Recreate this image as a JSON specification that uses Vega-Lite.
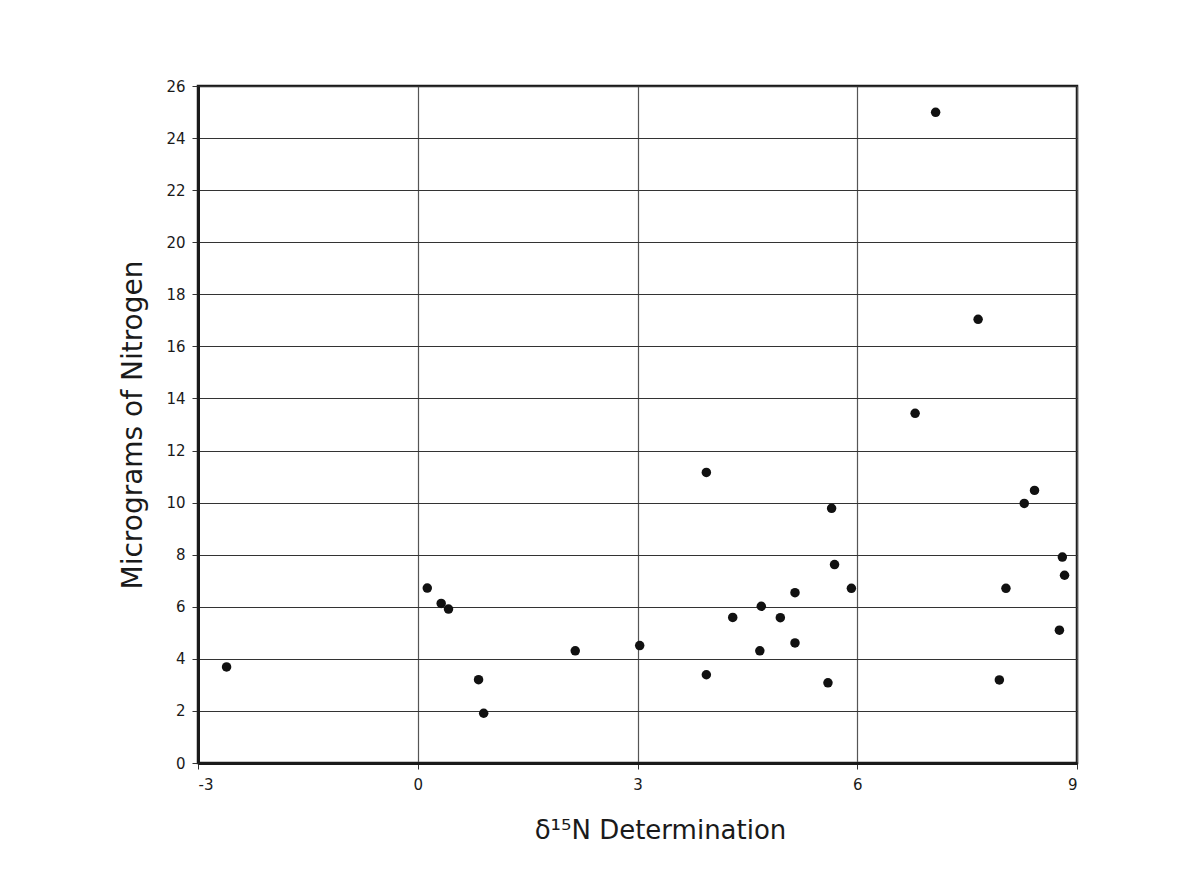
{
  "$schema": "https://vega.github.io/schema/vega-lite/v6.json",
  "width": 879,
  "height": 677,
  "autosize": "none",
  "padding": {"left": 198, "top": 86, "right": 125, "bottom": 125},
  "background": "white",
  "config": {
    "view": {"stroke": "#1a1a1a", "strokeWidth": 2.5},
    "font": "DejaVu Sans"
  },
  "data": {
    "values": [
      {"d15N": -2.61, "N": 3.69},
      {"d15N": 0.13, "N": 6.72},
      {"d15N": 0.32, "N": 6.13},
      {"d15N": 0.42, "N": 5.91},
      {"d15N": 0.83, "N": 3.2},
      {"d15N": 0.9, "N": 1.91},
      {"d15N": 2.15, "N": 4.31},
      {"d15N": 3.03, "N": 4.51},
      {"d15N": 3.94, "N": 11.16},
      {"d15N": 3.94, "N": 3.39},
      {"d15N": 4.3, "N": 5.59},
      {"d15N": 4.69, "N": 6.02},
      {"d15N": 4.67, "N": 4.31},
      {"d15N": 4.95, "N": 5.58},
      {"d15N": 5.15, "N": 6.54},
      {"d15N": 5.15, "N": 4.61},
      {"d15N": 5.65, "N": 9.78},
      {"d15N": 5.69, "N": 7.62},
      {"d15N": 5.6, "N": 3.08},
      {"d15N": 5.92, "N": 6.71},
      {"d15N": 6.79, "N": 13.43},
      {"d15N": 7.07, "N": 24.99},
      {"d15N": 7.65, "N": 17.04},
      {"d15N": 8.42, "N": 10.47},
      {"d15N": 8.28, "N": 9.97},
      {"d15N": 8.8, "N": 7.91},
      {"d15N": 8.83, "N": 7.21},
      {"d15N": 8.03, "N": 6.71},
      {"d15N": 8.76, "N": 5.1},
      {"d15N": 7.94, "N": 3.19}
    ]
  },
  "mark": {"type": "circle", "size": 90, "color": "#111111", "opacity": 1},
  "encoding": {
    "x": {
      "field": "d15N",
      "type": "quantitative",
      "scale": {"domain": [-3, 9], "nice": false, "zero": false},
      "axis": {
        "title": "δ¹⁵N Determination",
        "titleFont": "DejaVu Sans",
        "titleFontSize": 26,
        "titleFontWeight": "normal",
        "titleColor": "#1a1a1a",
        "titlePadding": 25,
        "titleX": 462,
        "titleAlign": "center",
        "values": [-3, 0, 3, 6, 9],
        "labelExpr": "replace(datum.label, '−', '-')",
        "labelFontSize": 15,
        "labelColor": "#1a1a1a",
        "labelPadding": 8,
        "domainColor": "#1a1a1a",
        "domainWidth": 3,
        "tickColor": "#333333",
        "tickSize": 6,
        "tickWidth": 1,
        "grid": true,
        "gridColor": "#555555",
        "gridWidth": 1.2,
        "gridOpacity": 1
      }
    },
    "y": {
      "field": "N",
      "type": "quantitative",
      "scale": {"domain": [0, 26], "nice": false},
      "axis": {
        "title": "Micrograms of Nitrogen",
        "titleFont": "DejaVu Sans",
        "titleFontSize": 28,
        "titleFontWeight": "normal",
        "titleColor": "#1a1a1a",
        "titlePadding": 18,
        "values": [0, 2, 4, 6, 8, 10, 12, 14, 16, 18, 20, 22, 24, 26],
        "labelFontSize": 15,
        "labelColor": "#1a1a1a",
        "labelPadding": 7,
        "domainColor": "#1a1a1a",
        "domainWidth": 3,
        "tickColor": "#333333",
        "tickSize": 6,
        "tickWidth": 1,
        "grid": true,
        "gridColor": "#333333",
        "gridWidth": 1.2,
        "gridOpacity": 1
      }
    }
  }
}
